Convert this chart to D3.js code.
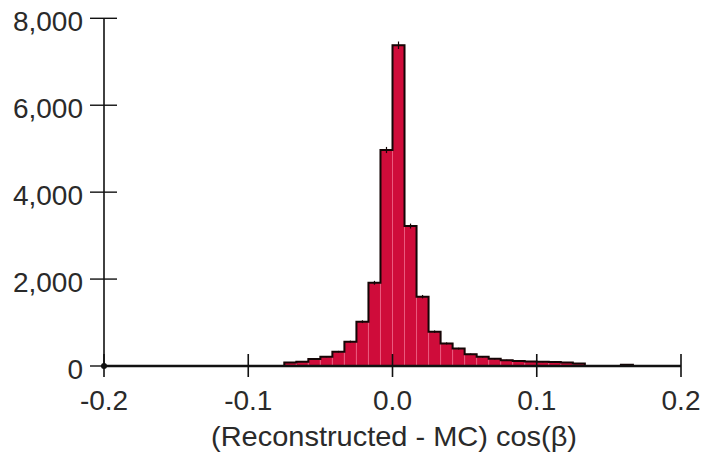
<!DOCTYPE html>
<html>
<head>
<meta charset="utf-8">
<script src="https://cdn.jsdelivr.net/npm/d3@7/dist/d3.min.js"></script>
<style>
  html, body { margin: 0; padding: 0; background: #ffffff; }
  svg { display: block; }
  text { font-family: "Liberation Sans", Arial, sans-serif; fill: #2a2a2a; }
</style>
</head>
<body>
<svg id="chart" width="704" height="455"></svg>
<script>
// ---- data ----
const xDomain = [-0.2, 0.2];
const binWidth = 1 / 120;             // 48 bins across [-0.2, 0.2]
const counts = [
  0, 0, 0, 0, 0, 0, 0, 0, 0, 0, 0, 0, 0, 0,       // bins 0-13
  0, 80, 100, 160, 215, 330, 560, 1020, 1915, 4970, // bins 14-23
  7380, 3220, 1595, 790, 520, 400, 270, 210, 165, 130, // bins 24-33
  115, 105, 95, 90, 80, 55, 0, 0, 0, 30,          // bins 34-43
  0, 0, 0, 0                                      // bins 44-47
];
const xTicks = [-0.2, -0.1, 0.0, 0.1, 0.2];
const xTickLabels = ["-0.2", "-0.1", "0.0", "0.1", "0.2"];
const yTicks = [0, 2000, 4000, 6000, 8000];
const yTickLabels = ["0", "2,000", "4,000", "6,000", "8,000"];
const xTitle = "(Reconstructed - MC) cos(\u03B2)";

// ---- layout ----
const svg = d3.select("#chart");
const x = d3.scaleLinear().domain(xDomain).range([104, 681]);
const y = d3.scaleLinear().domain([0, 8000]).range([366, 18.3]);

const bins = counts.map((c, i) => ({
  x0: xDomain[0] + i * binWidth,
  x1: xDomain[0] + (i + 1) * binWidth,
  c: c
}));

// bars
svg.append("g").selectAll("rect")
  .data(bins.filter(d => d.c > 0))
  .join("rect")
  .attr("x", d => x(d.x0))
  .attr("y", d => y(d.c))
  .attr("width", d => x(d.x1) - x(d.x0))
  .attr("height", d => y(0) - y(d.c))
  .attr("fill", "#cf0c3a")
  .attr("stroke", "#ea5a7e")
  .attr("stroke-width", 1);

// outline (step envelope)
const pts = [];
bins.forEach(d => { pts.push([d.x0, d.c]); pts.push([d.x1, d.c]); });
svg.append("path")
  .attr("d", d3.line().x(p => x(p[0])).y(p => y(p[1]))(pts))
  .attr("fill", "none")
  .attr("stroke", "#140606")
  .attr("stroke-width", 2);

// error bars
svg.append("g").selectAll("line")
  .data(bins.filter(d => d.c > 0))
  .join("line")
  .attr("x1", d => x((d.x0 + d.x1) / 2))
  .attr("x2", d => x((d.x0 + d.x1) / 2))
  .attr("y1", d => y(d.c - Math.sqrt(d.c)))
  .attr("y2", d => y(d.c + Math.sqrt(d.c)))
  .attr("stroke", "#140606")
  .attr("stroke-width", 1.2);

// y axis
svg.append("line")
  .attr("x1", 104).attr("x2", 104)
  .attr("y1", y(8000)).attr("y2", y(0))
  .attr("stroke", "#111").attr("stroke-width", 1.6);
const yt = svg.append("g");
yTicks.forEach((v, i) => {
  yt.append("line")
    .attr("x1", 90).attr("x2", 117)
    .attr("y1", y(v)).attr("y2", y(v))
    .attr("stroke", "#111").attr("stroke-width", 1.4);
  yt.append("text")
    .attr("x", 83).attr("y", y(v) + 12.5)
    .attr("text-anchor", "end")
    .attr("font-size", 28)
    .text(yTickLabels[i]);
});

// x axis
svg.append("line")
  .attr("x1", x(xDomain[0])).attr("x2", x(xDomain[1]))
  .attr("y1", y(0)).attr("y2", y(0))
  .attr("stroke", "#111").attr("stroke-width", 2.4);
const xt = svg.append("g");
xTicks.forEach((v, i) => {
  xt.append("line")
    .attr("x1", x(v)).attr("x2", x(v))
    .attr("y1", y(0) - 12).attr("y2", y(0) + 11)
    .attr("stroke", "#111").attr("stroke-width", 1.6);
  xt.append("text")
    .attr("x", x(v)).attr("y", y(0) + 44)
    .attr("text-anchor", "middle")
    .attr("font-size", 28)
    .text(xTickLabels[i]);
});
svg.append("circle")
  .attr("cx", x(xDomain[0])).attr("cy", y(0)).attr("r", 3)
  .attr("fill", "#111");

// x title
svg.append("text")
  .attr("x", 394).attr("y", 446)
  .attr("text-anchor", "middle")
  .attr("font-size", 28)
  .attr("textLength", 366)
  .attr("lengthAdjust", "spacingAndGlyphs")
  .text(xTitle);
</script>
</body>
</html>
